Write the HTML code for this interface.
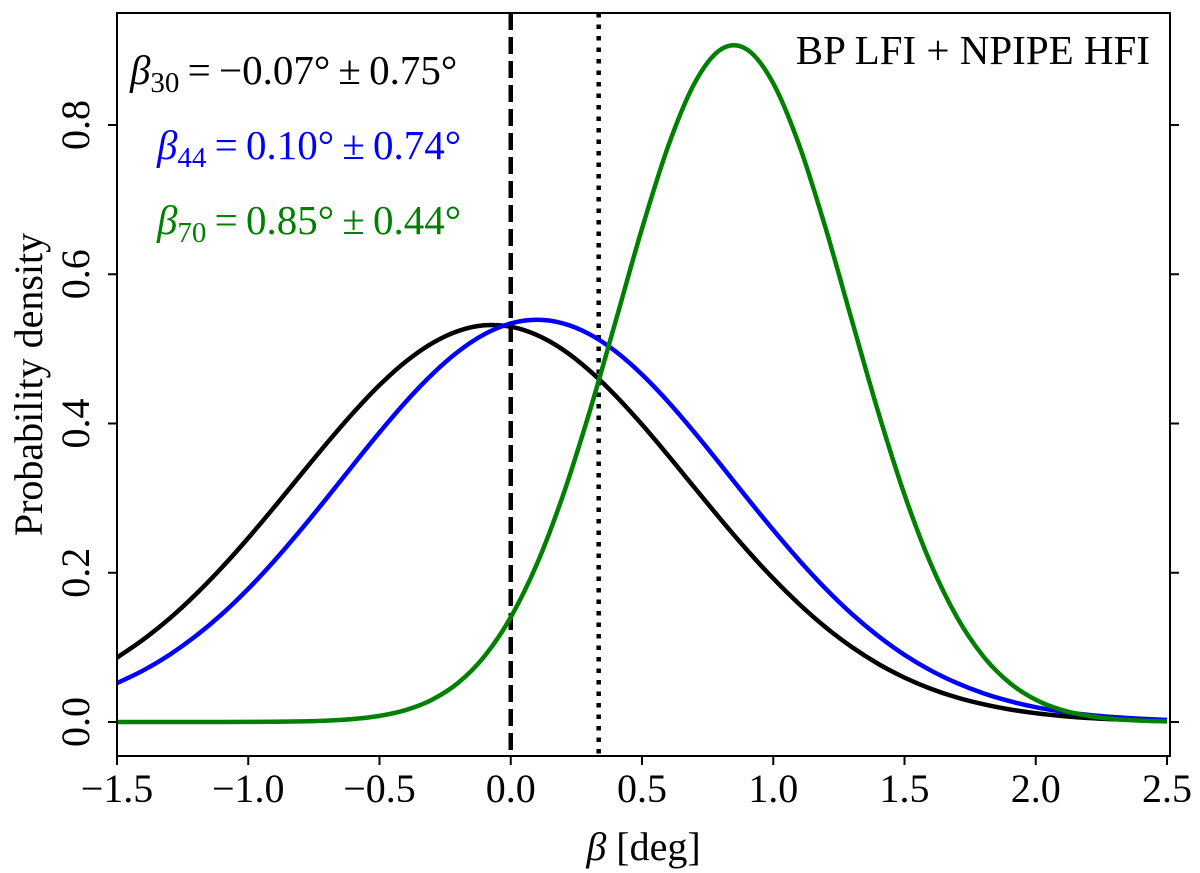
<!DOCTYPE html>
<html><head><meta charset="utf-8"><style>
html,body{margin:0;padding:0;background:#fff}
svg{display:block}
text{font-family:"Liberation Serif","DejaVu Serif",serif}
</style></head><body>
<svg id="chart" width="1200" height="873" viewBox="0 0 1200 873" xmlns="http://www.w3.org/2000/svg">
<g id="curves"></g>
<g id="axes"></g>
<g id="annot">
<text x="1150" y="64" font-size="41" text-anchor="end">BP LFI + NPIPE HFI</text>
<text x="130" y="84" font-size="41" fill="#000"><tspan font-style="italic">β</tspan><tspan font-size="29" dy="8">30</tspan><tspan dy="-8">&#8201;=&#8201;−0.07°&#8201;±&#8201;0.75°</tspan></text>
<text x="157" y="159" font-size="41" fill="#0000ff"><tspan font-style="italic">β</tspan><tspan font-size="29" dy="8">44</tspan><tspan dy="-8">&#8201;=&#8201;0.10°&#8201;±&#8201;0.74°</tspan></text>
<text x="157" y="234" font-size="41" fill="#008000"><tspan font-style="italic">β</tspan><tspan font-size="29" dy="8">70</tspan><tspan dy="-8">&#8201;=&#8201;0.85°&#8201;±&#8201;0.44°</tspan></text>
</g>
</svg>
<script>
const xs = [-1.5,-1.4,-1.3,-1.2,-1.1,-1.0,-0.9,-0.8,-0.7,-0.6,-0.5,-0.4,-0.3,-0.2,-0.1,0.0,0.1,0.2,0.3,0.4,0.5,0.6,0.7,0.8,0.9,1.0,1.1,1.2,1.3,1.4,1.5,1.6,1.7,1.8,1.9,2.0,2.1,2.2,2.3,2.4,2.5];
const beta30 = [0.0863,0.1105,0.1386,0.171,0.2072,0.2466,0.2883,0.3313,0.3738,0.4144,0.4514,0.4829,0.5075,0.524,0.5316,0.5297,0.5185,0.4987,0.471,0.4371,0.3986,0.357,0.3141,0.2715,0.2305,0.1923,0.1576,0.1268,0.1003,0.0779,0.0595,0.0446,0.0328,0.0238,0.0169,0.0118,0.0081,0.0054,0.0036,0.0023,0.0015];
const beta44 = [0.0521,0.0691,0.090,0.1152,0.1447,0.1785,0.2163,0.2573,0.3004,0.3446,0.388,0.429,0.4657,0.4965,0.5197,0.5341,0.539,0.5341,0.5197,0.4965,0.4657,0.429,0.388,0.3446,0.3004,0.2573,0.2163,0.1785,0.1447,0.1152,0.090,0.0691,0.0521,0.0385,0.028,0.0199,0.014,0.0096,0.0065,0.0043,0.0028];
const beta70 = [0,0,0,0,0,0.0001,0.0003,0.0008,0.0018,0.004,0.0082,0.016,0.0298,0.0526,0.0881,0.1404,0.212,0.3047,0.4153,0.5376,0.6612,0.7719,0.8559,0.9012,0.9012,0.8559,0.7719,0.6612,0.5376,0.4153,0.3047,0.212,0.1404,0.0881,0.0526,0.0298,0.016,0.0082,0.004,0.0018,0.0008];
const xTicks = [-1.5,-1.0,-0.5,0.0,0.5,1.0,1.5,2.0,2.5];
const xTickLabels = ["−1.5","−1.0","−0.5","0.0","0.5","1.0","1.5","2.0","2.5"];
const yTicks = [0,0.2,0.4,0.6,0.8];
const yTickLabels = ["0.0","0.2","0.4","0.6","0.8"];
const vLines = [0.0, 0.335];

const L=117,R=1170,T=13,B=756;
const X = v => L + (v+1.5)*262.5;
const Y = v => 722 - v*746.25;
const NS="http://www.w3.org/2000/svg";
function mk(tag, attrs, parent){const e=document.createElementNS(NS,tag);for(const k in attrs)e.setAttribute(k,attrs[k]);parent.appendChild(e);return e;}
const curves=document.getElementById('curves'), axes=document.getElementById('axes');

function smoothPath(ys){
  const p=xs.map((x,i)=>[X(x),Y(ys[i])]);
  let d=`M${p[0][0]},${p[0][1]}`;
  for(let i=0;i<p.length-1;i++){
    const p0=p[Math.max(i-1,0)],p1=p[i],p2=p[i+1],p3=p[Math.min(i+2,p.length-1)];
    const c1=[p1[0]+(p2[0]-p0[0])/6,p1[1]+(p2[1]-p0[1])/6];
    const c2=[p2[0]-(p3[0]-p1[0])/6,p2[1]-(p3[1]-p1[1])/6];
    d+=` C${c1[0]},${c1[1]} ${c2[0]},${c2[1]} ${p2[0]},${p2[1]}`;
  }
  return d;
}
const clip=mk('clipPath',{id:'pc'},curves);
mk('rect',{x:L,y:T,width:R-L,height:B-T},clip);
const g=mk('g',{'clip-path':'url(#pc)'},curves);
const v0=mk('line',{x1:X(vLines[0]),x2:X(vLines[0]),y1:T,y2:B,stroke:'#000','stroke-width':4.5,'stroke-dasharray':'17,7'},g);


const v1=mk('line',{x1:X(vLines[1]),x2:X(vLines[1]),y1:T,y2:B,stroke:'#000','stroke-width':4.5,'stroke-dasharray':'4.5,7'},g);


[[beta30,'#000','beta30-curve'],[beta44,'#0000ff','beta44-curve'],[beta70,'#008000','beta70-curve']].forEach(([ys,c,n])=>{
  const e=mk('path',{d:smoothPath(ys),fill:'none',stroke:c,'stroke-width':4.5},g);
  
  
});
const fr=mk('rect',{x:L,y:T,width:R-L,height:B-T,fill:'none',stroke:'#000','stroke-width':2},axes);


xTicks.forEach((v,i)=>{
  mk('line',{x1:X(v),x2:X(v),y1:B,y2:B+9,stroke:'#000','stroke-width':2},axes);
  const t=mk('text',{x:X(v),y:B+46,'font-size':40,'text-anchor':'middle'},axes);
  t.textContent=xTickLabels[i];
  
  
});
yTicks.forEach((v,i)=>{
  mk('line',{x1:L-9,x2:L,y1:Y(v),y2:Y(v),stroke:'#000','stroke-width':2},axes);
  mk('line',{x1:R,x2:R+9,y1:Y(v),y2:Y(v),stroke:'#000','stroke-width':2},axes);
  const t=mk('text',{x:0,y:0,'font-size':40,'text-anchor':'middle',transform:`translate(89,${Y(v)}) rotate(-90)`},axes);
  t.textContent=yTickLabels[i];
  
  
});
const xt=mk('text',{x:(L+R)/2,y:860,'font-size':40,'text-anchor':'middle'},axes);
xt.innerHTML='<tspan font-style="italic">β</tspan> [deg]';


const yt=mk('text',{x:0,y:0,'font-size':40,'text-anchor':'middle',transform:`translate(42,${(T+B)/2}) rotate(-90)`},axes);
yt.textContent='Probability density';


</script>
</body></html>
